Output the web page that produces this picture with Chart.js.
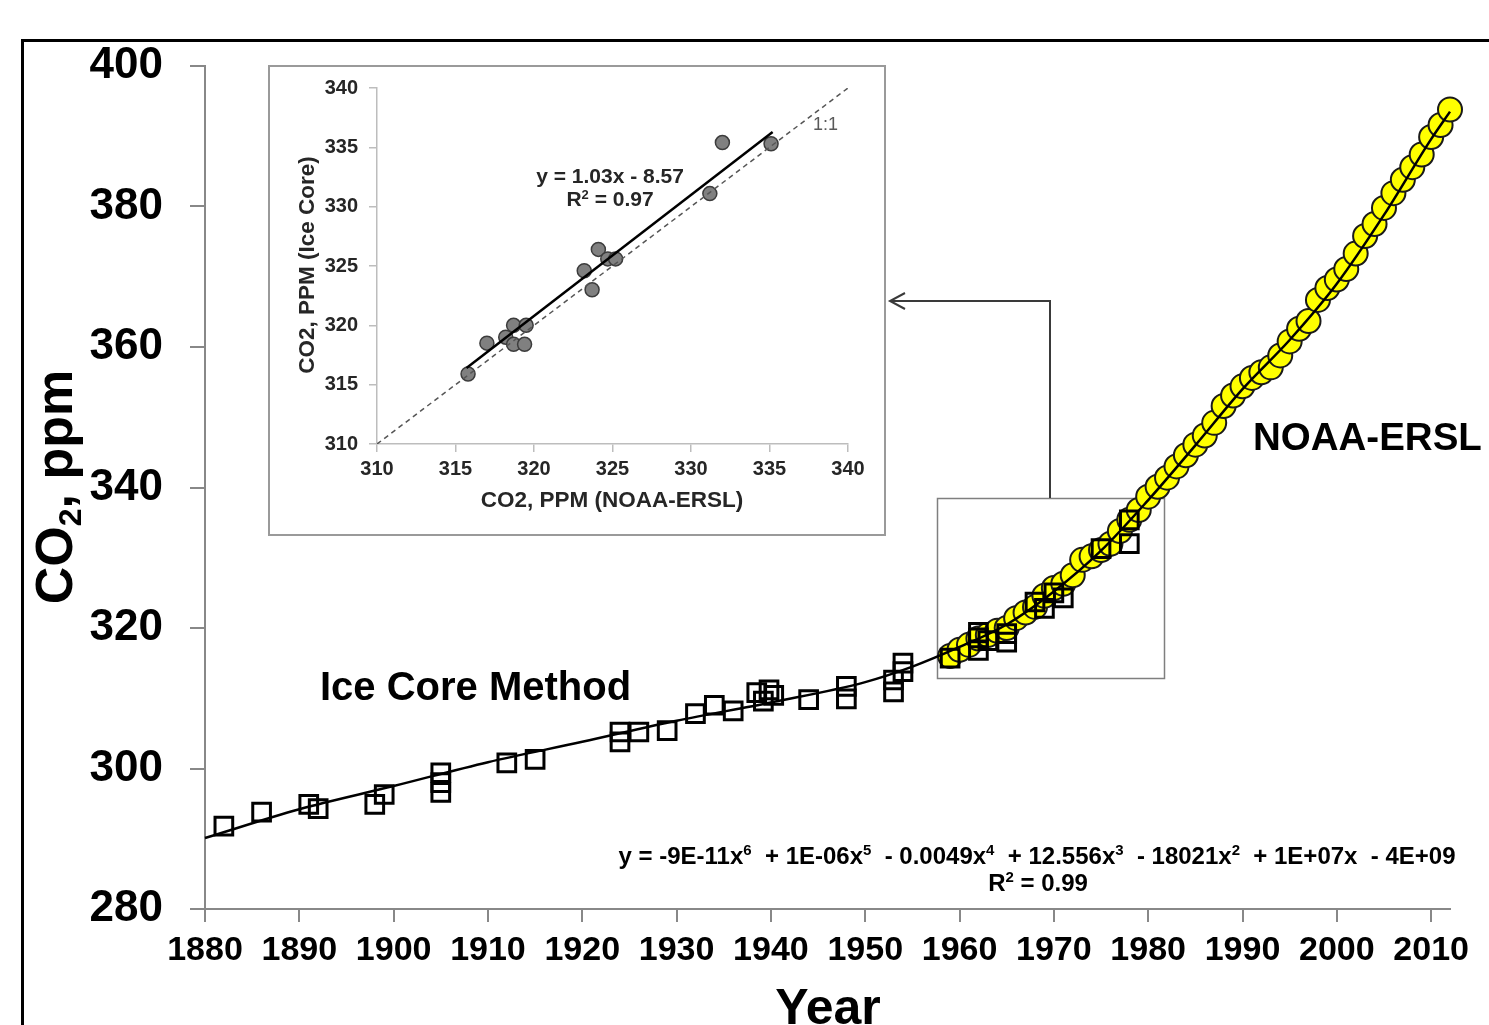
<!DOCTYPE html>
<html><head><meta charset="utf-8">
<script src="https://cdn.jsdelivr.net/npm/chart.js@4.4.1/dist/chart.umd.min.js"></script>
<style>
html,body{margin:0;padding:0;background:#fff;overflow:hidden}
#wrap{position:relative;width:1489px;height:1025px;background:#fff}
#main{position:absolute;left:0;top:0}
#inset{position:absolute;left:268px;top:65px}
</style></head><body>
<div id="wrap"><canvas id="main" width="1489" height="1025"></canvas><canvas id="inset" width="618" height="471"></canvas></div>
<script>
// ---------- main chart data ----------
const iceCoreYears = [1882,1886,1891,1892,1898,1899,1905,1905,1905,1912,1915,1924,1924,1926,1929,1932,1934,1936,1938.5,1939.2,1939.8,1940.3,1944,1948,1948,1953,1953,1954,1954,1959,1962,1962,1962,1963,1965,1965,1968,1969,1970,1971,1975,1978,1978];
const iceCoreValues = [291.8,293.8,294.9,294.3,294.9,296.3,299.4,298.0,296.6,300.8,301.3,305.2,303.8,305.2,305.4,307.8,309.0,308.2,310.8,309.6,311.2,310.4,309.8,311.7,309.9,312.6,310.9,315.0,313.8,315.7,319.4,318.6,316.8,318.2,319.2,318.0,323.7,322.8,325.0,324.3,331.3,335.4,332.0];
const noaaYears = [1959,1960,1961,1962,1963,1964,1965,1966,1967,1968,1969,1970,1971,1972,1973,1974,1975,1976,1977,1978,1979,1980,1981,1982,1983,1984,1985,1986,1987,1988,1989,1990,1991,1992,1993,1994,1995,1996,1997,1998,1999,2000,2001,2002,2003,2004,2005,2006,2007,2008,2009,2010,2011,2012];
const noaaValues = [316.0,316.9,317.6,318.5,319.0,319.6,320.0,321.4,322.2,323.0,324.6,325.7,326.3,327.5,329.7,330.2,331.1,332.0,333.8,335.4,336.8,338.7,340.1,341.4,343.0,344.6,346.1,347.4,349.2,351.6,353.1,354.4,355.6,356.4,357.1,358.8,360.8,362.6,363.7,366.7,368.4,369.6,371.1,373.3,375.8,377.5,379.8,381.9,383.8,385.6,387.4,389.9,391.6,393.8];
const trendYears = [1880,1890,1900,1910,1920,1930,1940,1950,1955,1960,1965,1970,1975,1980,1985,1990,1995,2000,2005,2010,2012];
const trendValues = [290.1,294.2,297.5,300.9,303.8,306.8,309.4,312.3,314.5,317.3,320.5,325.2,331.0,338.2,346.0,354.0,361.0,369.0,378.8,389.6,393.5];
const xTickLabels = [1880,1890,1900,1910,1920,1930,1940,1950,1960,1970,1980,1990,2000,2010];
const yTickLabels = [280,300,320,340,360,380,400];

// ---------- inset data ----------
const insetNoaa = [315.8,317.0,318.2,318.7,319.5,318.7,319.4,323.2,323.7,324.1,324.7,325.2,331.2,332.0,335.1];
const insetIce  = [315.9,318.5,319.0,320.0,320.0,318.4,318.4,324.6,323.0,326.4,325.6,325.6,331.1,335.4,335.3];
const insetTicks = [310,315,320,325,330,335,340];
const fitLineX = [315.7,335.2];
const fitLineY = [316.4,336.3];
const oneToOneX = [310,340];
const oneToOneY = [310,340];

const FONT = "'Liberation Sans', Arial, Helvetica, sans-serif";

function drawRich(ctx, parts, x, y, align, weight, color) {
  const widths = parts.map(p => { ctx.font = weight + ' ' + p[1] + 'px ' + FONT; return ctx.measureText(p[0]).width; });
  const total = widths.reduce((a, b) => a + b, 0);
  let cx = align === 'center' ? x - total / 2 : (align === 'right' ? x - total : x);
  ctx.textAlign = 'left'; ctx.textBaseline = 'alphabetic'; ctx.fillStyle = color;
  parts.forEach((p, i) => { ctx.font = weight + ' ' + p[1] + 'px ' + FONT; ctx.fillText(p[0], cx, y + p[2]); cx += widths[i]; });
}

const mainDecor = {
  id: 'mainDecor',
  beforeDatasetsDraw(chart) {
    const ctx = chart.ctx;
    ctx.save();
    ctx.strokeStyle = '#7f7f7f'; ctx.lineWidth = 1.5;
    ctx.strokeRect(937.5, 498.5, 227, 180);
    ctx.restore();
  },
  afterDraw(chart) {
    const ctx = chart.ctx;
    ctx.save();
    // outer frame
    ctx.strokeStyle = '#000'; ctx.lineWidth = 3;
    ctx.beginPath(); ctx.moveTo(22.5, 1040); ctx.lineTo(22.5, 40.5); ctx.lineTo(1500, 40.5); ctx.stroke();
    // connector arrow
    ctx.strokeStyle = '#3a3a3a'; ctx.lineWidth = 2;
    ctx.beginPath(); ctx.moveTo(1050, 498); ctx.lineTo(1050, 301); ctx.lineTo(890, 301); ctx.stroke();
    ctx.beginPath(); ctx.moveTo(905, 293); ctx.lineTo(890, 301); ctx.lineTo(905, 309); ctx.stroke();
    // y title
    ctx.save();
    ctx.translate(72, 487); ctx.rotate(-Math.PI / 2);
    drawRich(ctx, [['CO', 52, 0], ['2', 32, 9], [', ppm', 52, 0]], 0, 0, 'center', 'bold', '#000');
    ctx.restore();
    // x title
    drawRich(ctx, [['Year', 50, 0]], 828, 1024, 'center', 'bold', '#000');
    // series labels
    drawRich(ctx, [['Ice Core Method', 40, 0]], 320, 700, 'left', 'bold', '#000');
    drawRich(ctx, [['NOAA-ERSL', 38.5, 0]], 1253, 450, 'left', 'bold', '#000');
    // trend equation
    const s = 24, ss = 15, up = -9;
    drawRich(ctx, [['y = -9E-11x', s, 0], ['6', ss, up], ['  + 1E-06x', s, 0], ['5', ss, up], ['  - 0.0049x', s, 0], ['4', ss, up],
      ['  + 12.556x', s, 0], ['3', ss, up], ['  - 18021x', s, 0], ['2', ss, up], ['  + 1E+07x  - 4E+09', s, 0]], 1037, 864, 'center', 'bold', '#000');
    drawRich(ctx, [['R', s, 0], ['2', ss, up], [' = 0.99', s, 0]], 1038, 891, 'center', 'bold', '#000');
    ctx.restore();
  }
};

new Chart(document.getElementById('main'), {
  type: 'scatter',
  data: {
    datasets: [
      { label: 'Trend', type: 'line', data: trendYears.map((x, i) => ({ x: x, y: trendValues[i] })),
        borderColor: '#000', borderWidth: 2.5, pointRadius: 0, fill: false, cubicInterpolationMode: 'monotone', order: 0, clip: false },
      { label: 'Ice Core Method', data: iceCoreYears.map((x, i) => ({ x: x, y: iceCoreValues[i] })),
        pointStyle: 'rect', pointRadius: 12.5, borderColor: '#000', borderWidth: 3, backgroundColor: 'rgba(0,0,0,0)', order: 1, clip: false },
      { label: 'NOAA-ERSL', data: noaaYears.map((x, i) => ({ x: x, y: noaaValues[i] })),
        pointStyle: 'circle', pointRadius: 12, backgroundColor: '#FFFF00', borderColor: '#1a1a1a', borderWidth: 2, order: 2, clip: false }
    ]
  },
  options: {
    responsive: false, animation: false, events: [],
    layout: { padding: { top: 66, right: 39, left: 0, bottom: 0 } },
    plugins: { legend: { display: false }, tooltip: { enabled: false } },
    scales: {
      x: {
        type: 'linear', min: 1880, max: 2012,
        afterBuildTicks: s => { s.ticks = xTickLabels.map(v => ({ value: v })); },
        afterFit: s => { s.height = 116; },
        ticks: { autoSkip: false, maxRotation: 0, minRotation: 0, padding: 8, color: '#000',
          font: { family: FONT, size: 34, weight: 'bold' }, callback: v => String(v) },
        grid: { drawOnChartArea: false, drawTicks: true, tickLength: 13, color: '#888', lineWidth: 2 },
        border: { color: '#888', width: 2 }
      },
      y: {
        type: 'linear', min: 280, max: 400,
        afterBuildTicks: s => { s.ticks = yTickLabels.map(v => ({ value: v })); },
        afterFit: s => { s.width = 205; },
        ticks: { padding: 27, color: '#000', font: { family: FONT, size: 44, weight: 'bold' }, callback: v => String(v) },
        grid: { drawOnChartArea: false, drawTicks: true, tickLength: 15, color: '#888', lineWidth: 2 },
        border: { color: '#888', width: 2 }
      }
    }
  },
  plugins: [mainDecor]
});

// ---------- inset chart ----------
const insetDecor = {
  id: 'insetDecor',
  beforeDraw(chart) {
    const ctx = chart.ctx;
    ctx.save(); ctx.fillStyle = '#fff'; ctx.fillRect(0, 0, chart.width, chart.height); ctx.restore();
  },
  afterDraw(chart) {
    const ctx = chart.ctx;
    ctx.save();
    ctx.strokeStyle = '#9a9a9a'; ctx.lineWidth = 2;
    ctx.strokeRect(1, 1, 616, 469);
    const col = '#262626';
    drawRich(ctx, [['CO2, PPM (NOAA-ERSL)', 22.5, 0]], 344, 442, 'center', 'bold', col);
    ctx.save();
    ctx.translate(46, 200); ctx.rotate(-Math.PI / 2);
    drawRich(ctx, [['CO2, PPM (Ice Core)', 22.5, 0]], 0, 0, 'center', 'bold', col);
    ctx.restore();
    drawRich(ctx, [['y = 1.03x - 8.57', 21, 0]], 342, 118, 'center', 'bold', col);
    drawRich(ctx, [['R', 21, 0], ['2', 13, -7], [' = 0.97', 21, 0]], 342, 141, 'center', 'bold', col);
    drawRich(ctx, [['1:1', 18, 0]], 545, 65, 'left', 'normal', '#595959');
    ctx.restore();
  }
};

new Chart(document.getElementById('inset'), {
  type: 'scatter',
  data: {
    datasets: [
      { label: '1:1', type: 'line', data: oneToOneX.map((x, i) => ({ x: x, y: oneToOneY[i] })),
        borderColor: '#555', borderWidth: 1.5, borderDash: [5, 4], pointRadius: 0, fill: false, order: 0 },
      { label: 'fit', type: 'line', data: fitLineX.map((x, i) => ({ x: x, y: fitLineY[i] })),
        borderColor: '#000', borderWidth: 2.5, pointRadius: 0, fill: false, order: 0 },
      { label: 'pairs', data: insetNoaa.map((x, i) => ({ x: x, y: insetIce[i] })),
        pointRadius: 7, backgroundColor: '#808080', borderColor: '#3c3c3c', borderWidth: 1.5, order: 1, clip: false }
    ]
  },
  options: {
    responsive: false, animation: false, events: [],
    layout: { padding: { top: 20, right: 38, left: 0, bottom: 0 } },
    plugins: { legend: { display: false }, tooltip: { enabled: false } },
    scales: {
      x: {
        type: 'linear', min: 310, max: 340,
        afterBuildTicks: s => { s.ticks = insetTicks.map(v => ({ value: v })); },
        afterFit: s => { s.height = 92; },
        ticks: { autoSkip: false, maxRotation: 0, padding: 5, color: '#262626', font: { family: FONT, size: 20, weight: 'bold' }, callback: v => String(v) },
        grid: { drawOnChartArea: false, drawTicks: true, tickLength: 8, color: '#bdbdbd', lineWidth: 1.5 },
        border: { color: '#bdbdbd', width: 1.5 }
      },
      y: {
        type: 'linear', min: 310, max: 340,
        afterBuildTicks: s => { s.ticks = insetTicks.map(v => ({ value: v })); },
        afterFit: s => { s.width = 109; },
        ticks: { padding: 11, color: '#262626', font: { family: FONT, size: 20, weight: 'bold' }, callback: v => String(v) },
        grid: { drawOnChartArea: false, drawTicks: true, tickLength: 8, color: '#bdbdbd', lineWidth: 1.5 },
        border: { color: '#bdbdbd', width: 1.5 }
      }
    }
  },
  plugins: [insetDecor]
});
</script>
</body></html>
